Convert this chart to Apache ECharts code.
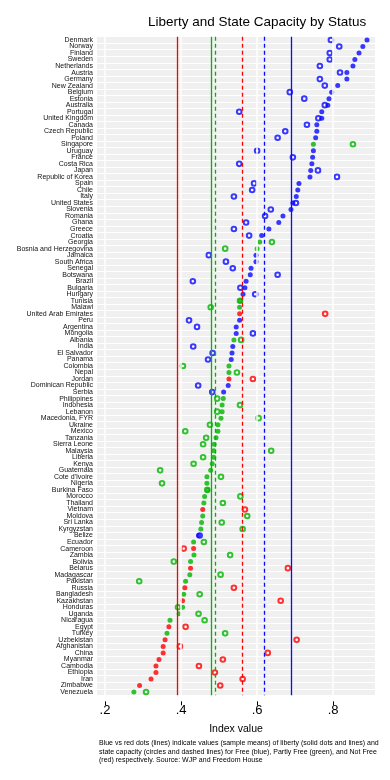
<!DOCTYPE html>
<html><head><meta charset="utf-8">
<script src="https://cdn.jsdelivr.net/npm/echarts@6/dist/echarts.min.js"></script>
<style>html,body{margin:0;padding:0;background:#fff}#c{width:390px;height:780px}</style>
</head><body><div id="c"></div><script>
const countries = ["Denmark","Norway","Finland","Sweden","Netherlands","Austria","Germany","New Zealand","Belgium","Estonia","Australia","Portugal","United Kingdom","Canada","Czech Republic","Poland","Singapore","Uruguay","France","Costa Rica","Japan","Republic of Korea","Spain","Chile","Italy","United States","Slovenia","Romania","Ghana","Greece","Croatia","Georgia","Bosnia and Herzegovina","Jamaica","South Africa","Senegal","Botswana","Brazil","Bulgaria","Hungary","Tunisia","Malawi","United Arab Emirates","Peru","Argentina","Mongolia","Albania","India","El Salvador","Panama","Colombia","Nepal","Jordan","Dominican Republic","Serbia","Philippines","Indonesia","Lebanon","Macedonia, FYR","Ukraine","Mexico","Tanzania","Sierra Leone","Malaysia","Liberia","Kenya","Guatemala","Cote d'Ivoire","Nigeria","Burkina Faso","Morocco","Thailand","Vietnam","Moldova","Sri Lanka","Kyrgyzstan","Belize","Ecuador","Cameroon","Zambia","Bolivia","Belarus","Madagascar","Pakistan","Russia","Bangladesh","Kazakhstan","Honduras","Uganda","Nicaragua","Egypt","Turkey","Uzbekistan","Afghanistan","China","Myanmar","Cambodia","Ethiopia","Iran","Zimbabwe","Venezuela"];
const status = ["F","F","F","F","F","F","F","F","F","F","F","F","F","F","F","F","P","F","F","F","F","F","F","F","F","F","F","F","F","F","F","P","P","F","F","F","F","F","F","F","P","P","N","F","F","F","P","F","F","F","P","P","N","F","F","P","P","P","P","P","P","P","P","P","P","P","P","P","P","P","P","P","N","P","P","P","F","P","N","P","P","N","P","P","N","P","N","P","P","P","N","P","N","N","N","N","N","N","N","N","P"];
const liberty = [0.889,0.878,0.868,0.857,0.852,0.836,0.836,0.812,0.796,0.789,0.786,0.770,0.770,0.757,0.757,0.754,0.748,0.748,0.746,0.744,0.741,0.739,0.710,0.707,0.703,0.694,0.689,0.668,0.657,0.631,0.612,0.607,0.600,0.597,0.597,0.584,0.582,0.571,0.568,0.563,0.556,0.554,0.554,0.554,0.545,0.545,0.539,0.536,0.534,0.532,0.526,0.526,0.526,0.524,0.512,0.511,0.508,0.508,0.505,0.497,0.497,0.492,0.487,0.486,0.486,0.482,0.478,0.468,0.468,0.470,0.462,0.460,0.457,0.457,0.454,0.452,0.446,0.433,0.433,0.434,0.425,0.425,0.423,0.412,0.410,0.407,0.404,0.404,0.395,0.371,0.368,0.363,0.358,0.353,0.353,0.342,0.334,0.334,0.321,0.291,0.276];
const capacity = [0.794,0.816,0.791,0.791,0.765,0.818,0.765,0.778,0.686,0.724,0.778,0.553,0.761,0.731,0.674,0.654,0.852,0.600,0.694,0.553,0.760,0.810,0.592,0.587,0.539,0.702,0.636,0.621,0.571,0.539,0.579,0.639,0.516,0.473,0.518,0.536,0.654,0.431,0.556,0.595,0.555,0.478,0.779,0.421,0.442,0.589,0.558,0.432,0.483,0.471,0.405,0.547,0.589,0.445,0.482,0.495,0.555,0.495,0.604,0.476,0.411,0.466,0.458,0.637,0.458,0.433,0.345,0.505,0.350,0.469,0.556,0.510,0.568,0.574,0.507,0.562,0.449,0.460,0.407,0.529,0.381,0.681,0.504,0.290,0.539,0.449,0.662,0.392,0.446,0.462,0.412,0.516,0.704,0.397,0.628,0.510,0.447,0.489,0.562,0.503,0.308];
const statusCodes = ["F","P","N"];
const statusColors = ["#0a0aff","#00b400","#ff0000"];
const meanLiberty = [0.688, 0.479, 0.393];
const meanCapacity = [0.624, 0.493, 0.556];
const xTicks = [0.2, 0.4, 0.6, 0.8];
const titleText = "Liberty and State Capacity by Status";
const noteText = "Blue vs red dots (lines) indicate values (sample means) of liberty (solid dots and lines) and\nstate capacity (circles and dashed lines) for Free (blue), Partly Free (green), and Not Free\n(red) respectively. Source: WJP and Freedom House";

const FONT = "'Liberation Sans', Arial, sans-serif";
const chart = echarts.init(document.getElementById('c'), null, {renderer: 'canvas'});

const series = [{
  type: 'scatter', data: [], z: 1, silent: true,
  markLine: {silent: true, symbol: 'none', label: {show: false},
    lineStyle: {color: '#ffffff', width: 1.5, type: 'solid'},
    data: xTicks.map(v => ({xAxis: v}))}
}];
statusCodes.forEach((s, k) => {
  const idx = countries.map((c, i) => i).filter(i => status[i] === s);
  series.push({
    type: 'scatter', z: 3, symbol: 'emptyCircle', symbolSize: 4.6,
    itemStyle: {color: statusColors[k], borderColor: statusColors[k], borderWidth: 1.2},
    data: idx.map(i => [capacity[i], countries[i]]),
    markLine: {silent: true, symbol: 'none', label: {show: false},
      lineStyle: {color: statusColors[k], width: 1.3, type: [4, 3]},
      data: [{xAxis: meanCapacity[k]}]}
  });
  series.push({
    type: 'scatter', z: 4, symbol: 'circle', symbolSize: 5,
    itemStyle: {color: statusColors[k]},
    data: idx.map(i => [liberty[i], countries[i]]),
    markLine: {silent: true, symbol: 'none', label: {show: false},
      lineStyle: {color: statusColors[k], width: 1.3, type: 'solid'},
      data: [{xAxis: meanLiberty[k]}]}
  });
});

chart.setOption({
  animation: false,
  backgroundColor: '#ffffff',
  grid: {left: 97, top: 36.7, width: 278, height: 658.6, show: true, backgroundColor: '#f0f0f0', borderWidth: 0},
  xAxis: {
    type: 'value', min: 0.179, max: 0.91, offset: 6,
    axisLine: {show: false},
    axisTick: {show: true, length: 4, customValues: xTicks, lineStyle: {color: '#000'}},
    axisLabel: {customValues: xTicks, fontSize: 13, color: '#000', fontFamily: FONT, margin: 3,
      formatter: v => String(+v.toFixed(1)).replace(/^0/, '')},
    splitLine: {show: false},
    name: 'Index value', nameLocation: 'middle', nameGap: 22,
    nameTextStyle: {fontSize: 10.5, color: '#000', fontFamily: FONT}
  },
  yAxis: {
    type: 'category', data: countries, inverse: true,
    axisLine: {show: false}, axisTick: {show: false},
    axisLabel: {interval: 0, fontSize: 7, color: '#111', fontFamily: FONT, margin: 4},
    splitLine: {show: true, interval: 0, lineStyle: {color: '#ffffff', width: 1}}
  },
  graphic: [
    {type: 'text', left: 148, top: 15, style: {text: titleText, font: '13.5px ' + FONT, fill: '#000'}},
    {type: 'text', left: 99, top: 739, style: {text: noteText, font: '7px ' + FONT, fill: '#000', lineHeight: 8.5}}
  ],
  series: series
});
</script></body></html>
